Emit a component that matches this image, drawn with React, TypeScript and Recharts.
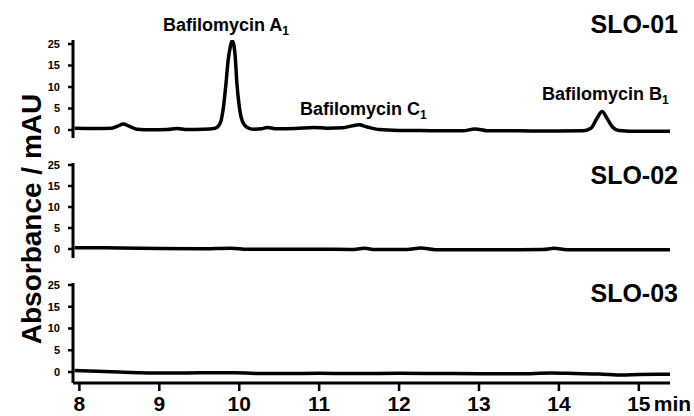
import React from 'react';
import { LineChart, Line, XAxis, YAxis } from 'recharts';

const W = 694;
const H = 416;
const FONT = "'Liberation Sans', Arial, sans-serif";
const NARROW = "'Liberation Sans Narrow', 'Liberation Sans', Arial, sans-serif";

// retention time ticks (min) and absorbance tick labels (mAU)
const timeTicks = [8, 9, 10, 11, 12, 13, 14, 15];
const absTicks = [0, 5, 10, 15, 25];

// SLO-01 trace
const slo01Time = [7.94, 8.2, 8.4, 8.48, 8.55, 8.62, 8.72, 8.9, 9.1, 9.22, 9.35, 9.55, 9.7, 9.76, 9.8, 9.83, 9.86, 9.89, 9.91, 9.93, 9.95, 9.97, 10.0, 10.04, 10.1, 10.18, 10.28, 10.35, 10.45, 10.7, 10.93, 11.1, 11.3, 11.42, 11.5, 11.6, 11.75, 12.0, 12.4, 12.8, 12.95, 13.1, 13.5, 14.0, 14.3, 14.4, 14.47, 14.54, 14.6, 14.67, 14.75, 15.0, 15.39];
const slo01Abs = [0.4, 0.35, 0.4, 0.9, 1.4, 0.9, 0.2, 0.05, 0.1, 0.35, 0.1, 0.15, 0.4, 1.5, 5, 10, 17, 24, 26.5, 25, 19, 11, 5.5, 2, 0.6, 0.2, 0.3, 0.6, 0.3, 0.35, 0.6, 0.4, 0.5, 1.0, 1.2, 0.7, 0.1, -0.1, -0.15, -0.2, 0.25, -0.15, -0.2, -0.25, -0.2, 0.4, 2.5, 4.3, 2.8, 0.7, -0.1, -0.3, -0.3];

// SLO-02 trace
const slo02Time = [7.94, 8.5, 9.0, 9.5, 9.9, 10.1, 10.6, 11.0, 11.4, 11.57, 11.7, 12.1, 12.27, 12.45, 13.0, 13.5, 13.8, 13.94, 14.1, 14.6, 15.0, 15.39];
const slo02Abs = [0.3, 0.25, 0.1, 0.05, 0.2, -0.05, -0.05, -0.05, -0.1, 0.15, -0.1, -0.1, 0.25, -0.15, -0.15, -0.15, -0.1, 0.15, -0.15, -0.2, -0.2, -0.2];

// SLO-03 trace
const slo03Time = [7.94, 8.5, 9.0, 9.5, 9.95, 10.2, 10.6, 11.0, 11.5, 12.0, 12.5, 13.0, 13.5, 13.9, 14.2, 14.5, 14.8, 15.0, 15.39];
const slo03Abs = [0.35, 0.0, -0.25, -0.2, -0.15, -0.35, -0.35, -0.3, -0.35, -0.3, -0.35, -0.4, -0.4, -0.25, -0.35, -0.45, -0.7, -0.55, -0.5];

// axis break above 15 mAU (15 -> 25 drawn in one tick step)
const toAxis = (v: number) => (v <= 15 ? v : 15 + (v - 15) / 2);
const fromAxis = (v: number) => (v <= 15 ? v : 15 + (v - 15) * 2);

const build = (t: number[], a: number[]) => t.map((x, i) => ({ t: x, v: toAxis(a[i]) }));

const panels = [
  { name: 'SLO-01', data: build(slo01Time, slo01Abs), zeroY: 130, topTickY: 44, plotTop: 40, plotBottom: 138, titleY: 33 },
  { name: 'SLO-02', data: build(slo02Time, slo02Abs), zeroY: 249, topTickY: 165, plotTop: 163, plotBottom: 258, titleY: 184 },
  { name: 'SLO-03', data: build(slo03Time, slo03Abs), zeroY: 372, topTickY: 285, plotTop: 283, plotBottom: 383, titleY: 302 },
];

const TimeTick = (props: any) => {
  const { x, y, payload } = props;
  return (
    <g>
      <text x={x} y={y} dy="0.71em" textAnchor="middle" fontFamily={NARROW} fontWeight="bold" fontSize={21} fill="#000">
        {payload.value}
      </text>
      {payload.value === 15 && (
        <text x={x + 15} y={y} dy="0.71em" textAnchor="start" fontFamily={NARROW} fontWeight="bold" fontSize={21} fill="#000">
          min
        </text>
      )}
    </g>
  );
};

const Panel = ({ p, last }: { p: (typeof panels)[number]; last: boolean }) => {
  const k = (p.zeroY - p.topTickY) / toAxis(25);
  const yMax = (p.zeroY - p.plotTop) / k;
  const yMin = -(p.plotBottom - p.zeroY) / k;
  return (
    <div style={{ position: 'absolute', left: 0, top: 0 }}>
      <LineChart
        width={W}
        height={H}
        data={p.data}
        margin={{ top: p.plotTop, right: 24, left: 0, bottom: last ? 0 : H - p.plotBottom }}
      >
        <XAxis
          dataKey="t"
          type="number"
          domain={[7.92, 15.39]}
          allowDataOverflow
          ticks={timeTicks}
          hide={!last}
          height={last ? 33 : 0}
          axisLine={{ stroke: '#000', strokeWidth: 3 }}
          tickLine={{ stroke: '#000', strokeWidth: 2.5 }}
          tickSize={8}
          tickMargin={5}
          tick={<TimeTick />}
        />
        <YAxis
          type="number"
          domain={[yMin, yMax]}
          allowDataOverflow
          ticks={absTicks.map(toAxis)}
          tickFormatter={(v: number) => String(fromAxis(v))}
          width={73}
          axisLine={{ stroke: '#000', strokeWidth: 3 }}
          tickLine={{ stroke: '#000', strokeWidth: 2.5 }}
          tickSize={5}
          tickMargin={8}
          tick={{ fill: '#000', fontSize: 11, fontWeight: 'bold', fontFamily: FONT }}
        />
        <Line
          dataKey="v"
          type="monotone"
          stroke="#000"
          strokeWidth={3.5}
          strokeLinejoin="round"
          dot={false}
          isAnimationActive={false}
        />
      </LineChart>
    </div>
  );
};

const Peak = ({ x, y, name, sub }: { x: number; y: number; name: string; sub: string }) => (
  <text x={x} y={y} fontFamily={FONT} fontWeight="bold" fontSize={18} fill="#000">
    {name}
    <tspan fontSize={12} dy={4}>{sub}</tspan>
  </text>
);

export default function App() {
  return (
    <div style={{ position: 'absolute', left: 0, top: 0, width: W, height: H, background: '#fff' }}>
      {panels.map((p, i) => (
        <Panel key={p.name} p={p} last={i === panels.length - 1} />
      ))}
      <svg width={W} height={H} style={{ position: 'absolute', left: 0, top: 0, pointerEvents: 'none' }}>
        <text
          transform="translate(41, 219) rotate(-90)"
          textAnchor="middle"
          fontFamily={FONT}
          fontWeight="bold"
          fontSize={28}
          fill="#000"
        >
          Absorbance / mAU
        </text>
        {panels.map((p) => (
          <text key={p.name} x={678} y={p.titleY} textAnchor="end" fontFamily={FONT} fontWeight="bold" fontSize={25} fill="#000">
            {p.name}
          </text>
        ))}
        <Peak x={163} y={31} name="Bafilomycin A" sub="1" />
        <Peak x={300} y={115} name="Bafilomycin C" sub="1" />
        <Peak x={542} y={100} name="Bafilomycin B" sub="1" />
      </svg>
    </div>
  );
}
